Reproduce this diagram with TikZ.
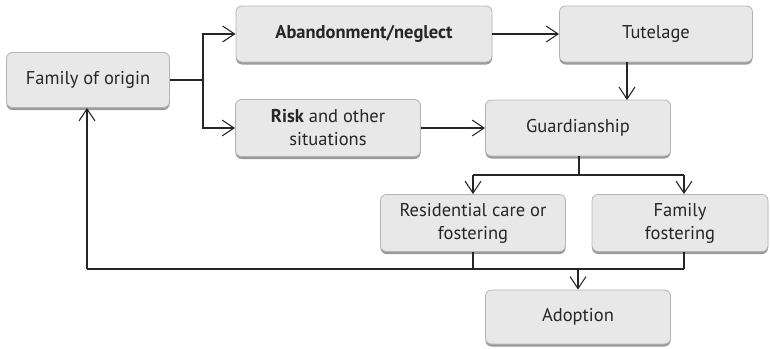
\documentclass[tikz,border=0pt]{standalone}
\usepackage{fontspec}
\setmainfont{PT Sans}
\usetikzlibrary{arrows.meta,shadows}
\definecolor{boxfill}{HTML}{E8E8E8}
\definecolor{boxline}{HTML}{B4B4B4}
\definecolor{boxshadow}{HTML}{9A9A9A}
\tikzset{
  box/.style={draw=boxline, line width=0.8pt, fill=boxfill, rounded corners=6pt,
    align=center, inner sep=0pt, text=black!85, font=\fontsize{18.5}{23}\selectfont,
    drop shadow={shadow xshift=0pt, shadow yshift=-2.5pt, fill=boxshadow, opacity=1}},
  conn/.style={draw=black!85, line width=1.1pt},
  arr/.style={conn, -{Straight Barb[length=12pt,width=16pt,line width=1.1pt]}},
}
\begin{document}
\begin{tikzpicture}[x=1pt,y=-1pt]
\useasboundingbox (0,0) rectangle (770,348);
\node[box, minimum width=163pt, minimum height=55pt] (fam) at (88,80) {Family of origin};
\node[box, minimum width=256pt, minimum height=56pt] (aban) at (364,34) {\textbf{Abandonment/neglect}};
\node[box, minimum width=193pt, minimum height=56pt] (tut) at (656,34) {Tutelage};
\node[box, minimum width=185pt, minimum height=57pt] (risk) at (328,128) {\textbf{Risk} and other\\situations};
\node[box, minimum width=185pt, minimum height=56pt] (guard) at (578,128) {Guardianship};
\node[box, minimum width=185pt, minimum height=57pt] (res) at (473,223) {Residential care or\\fostering};
\node[box, minimum width=176pt, minimum height=57pt] (ff) at (680,223) {Family\\fostering};
\node[box, minimum width=185pt, minimum height=54pt] (adop) at (578,317) {Adoption};
\coordinate (b1) at (203,80);
\coordinate (g1) at (579,175);
\coordinate (j1) at (473,175);
\coordinate (j2) at (684,175);
\coordinate (m1) at (473,269);
\coordinate (m2) at (684,269);
\coordinate (mc) at (578,269);
\coordinate (lp) at (87,269);
% family branches
\draw[conn] (fam.east) -- (b1);
\draw[arr] (b1) |- (aban.west);
\draw[arr] (b1) |- (risk.west);
\draw[arr] (aban.east) -- (tut.west);
\draw[arr] (tut.south -| 627,0) -- (627,100);
\draw[arr] (risk.east) -- (risk.east -| guard.west);
% guardianship split
\draw[conn] (guard.south -| g1) -- (g1);
\draw[conn] (j1) -- (j2);
\draw[arr] (j1) -- (res.north -| j1);
\draw[arr] (j2) -- (ff.north -| j2);
% merge to adoption
\draw[conn] (res.south -| m1) -- (m1);
\draw[conn] (ff.south -| m2) -- (m2);
\draw[conn] (lp) -- (m2);
\draw[arr] (mc) -- (adop.north);
\draw[arr] (lp) -- (fam.south -| lp);
\end{tikzpicture}
\end{document}
